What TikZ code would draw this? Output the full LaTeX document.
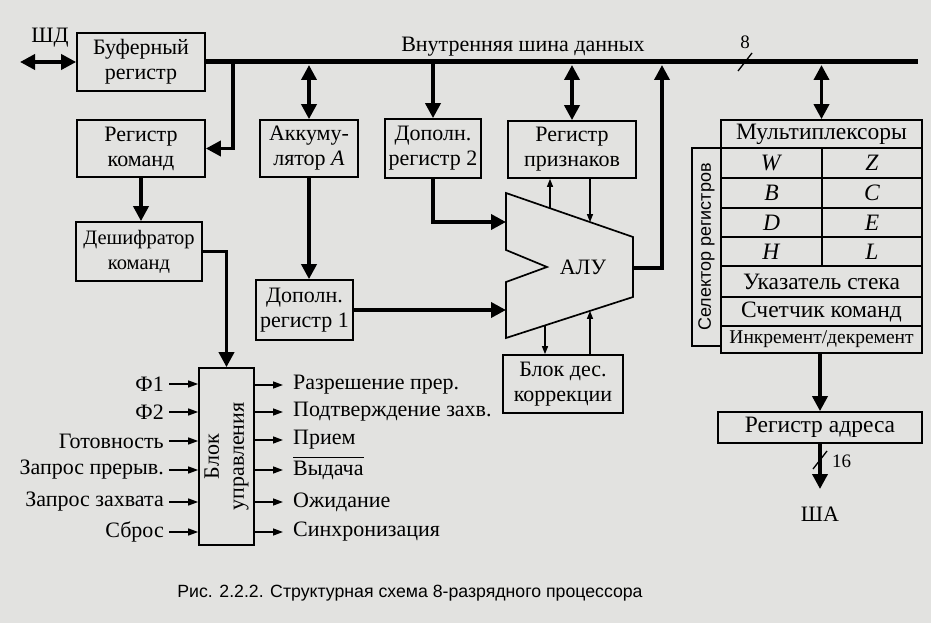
\documentclass[tikz,border=0pt]{standalone}
\usepackage{fontspec}
\setmainfont{Liberation Serif}
\newfontfamily\capfont{Liberation Sans}
\usetikzlibrary{arrows.meta}
\definecolor{paper}{RGB}{226,226,224}
\begin{document}
\begin{tikzpicture}[x=1pt,y=-1pt,
  every node/.style={inner sep=0pt},
  txt/.style={font=\fontsize{22}{25}\selectfont},
  rtxt/.style={font=\fontsize{23.5}{26}\selectfont},
  box/.style={draw, line width=1.7pt, align=center, txt},
  rbox/.style={box, rtxt},
  busline/.style={line width=5pt},
  tk/.style={line width=3.6pt, -{Triangle[length=15pt,width=15pt]}},
  tkd/.style={line width=3.6pt, {Triangle[length=15pt,width=15pt]}-{Triangle[length=15pt,width=15pt]}},
  tn/.style={line width=1.3pt, -{Triangle[length=8pt,width=6pt]}},
  sig/.style={line width=1.4pt, -{Triangle[length=10pt,width=7pt]}},
  slash/.style={line width=1.3pt}
]
\fill[paper] (0,0) rectangle (931,623);
\useasboundingbox (0,0) rectangle (931,623);

% ---- boxes
\node[box, minimum width=128pt, minimum height=58pt] (buf) at (141,62) {Буферный\\регистр};
\node[box, minimum width=128pt, minimum height=57pt] (rk) at (141,148.5) {Регистр\\команд};
\node[box, minimum width=126pt, minimum height=59pt, font=\fontsize{20.5}{25}\selectfont] (dc) at (139,251.5) {Дешифратор\\команд};
\node[box, minimum width=55pt, minimum height=177pt] (bu) at (226.5,456.5) {};
\node[txt, rotate=90, align=center] (butext) at (bu.center) {Блок\\управления};
\node[box, minimum width=98pt, minimum height=57pt] (acc) at (309,148.5) {Аккуму-\\лятор \textit{A}};
\node[box, minimum width=96pt, minimum height=59pt] (dr2) at (433,148.5) {Дополн.\\регистр 2};
\node[box, minimum width=128pt, minimum height=57pt] (rp) at (572,149.5) {Регистр\\признаков};
\node[box, minimum width=97pt, minimum height=60pt] (dr1) at (304.5,310) {Дополн.\\регистр 1};
\node[box, minimum width=120pt, minimum height=58pt] (bdk) at (563,384) {Блок дес.\\коррекции};

% ---- register file
\node[rbox, minimum width=201pt, minimum height=28pt] (mux) at (821.5,134) {Мультиплексоры};
\node[rbox, minimum width=101pt, minimum height=30pt] (rW) at (771.5,163) {\textit{W}};
\node[rbox, minimum width=100pt, minimum height=30pt] (rZ) at (872,163) {\textit{Z}};
\node[rbox, minimum width=101pt, minimum height=30pt] (rB) at (771.5,193) {\textit{B}};
\node[rbox, minimum width=100pt, minimum height=30pt] (rC) at (872,193) {\textit{C}};
\node[rbox, minimum width=101pt, minimum height=29pt] (rD) at (771.5,222.5) {\textit{D}};
\node[rbox, minimum width=100pt, minimum height=29pt] (rE) at (872,222.5) {\textit{E}};
\node[rbox, minimum width=101pt, minimum height=29pt] (rH) at (771.5,251.5) {\textit{H}};
\node[rbox, minimum width=100pt, minimum height=29pt] (rL) at (872,251.5) {\textit{L}};
\node[rbox, minimum width=201pt, minimum height=31pt] (sp) at (821.5,281.5) {Указатель стека};
\node[rbox, minimum width=201pt, minimum height=29pt] (pc) at (821.5,311.5) {Счетчик команд};
\node[box, minimum width=201pt, minimum height=27pt, font=\fontsize{19.5}{21}\selectfont] (inc) at (821.5,339.5) {Инкремент/декремент};
\node[box, minimum width=29pt, minimum height=198pt] (sel) at (706.5,247) {};
\node[rotate=90, font=\capfont\fontsize{18}{20}\selectfont] (seltext) at (sel.center) {Селектор регистров};
\node[rbox, minimum width=204pt, minimum height=31pt] (ra) at (820,427.5) {Регистр адреса};

% ---- ALU
\coordinate (a1) at (506,193);
\coordinate (a2) at (633,237);
\coordinate (a3) at (633,297);
\coordinate (a4) at (506,338);
\coordinate (n1) at (506,250);
\coordinate (n2) at (547,267);
\coordinate (n3) at (506,282);
\draw[line width=1.7pt] (a1) -- (a2) -- (a3) -- (a4) -- (n3) -- (n2) -- (n1) -- cycle;
\node[txt] (alu) at (583,267) {АЛУ};

% ---- labels
\node[txt] (shd) at (50,38) {ШД};
\node[txt] (busname) at (523,47) {Внутренняя шина данных};
\node[font=\fontsize{19}{20}\selectfont] (eight) at (745,42) {8};
\node[font=\fontsize{19}{20}\selectfont, anchor=west] (sixteen) at (832,461) {16};
\node[txt] (sha) at (820,514) {ША};
\node[font=\capfont\fontsize{17.7}{20}\selectfont] (caption) at (410,593) {Рис. 2.2.2. Структурная схема 8-разрядного процессора};

% ---- coordinates
\coordinate (shdL) at (20,62);
\coordinate (busR) at (918,62);
\coordinate (busM) at (0,62);
\coordinate (busB) at (0,65);
\coordinate (tapRK) at (233,62);
\coordinate (aluIn1) at (506,222);
\coordinate (aluIn2) at (506,310);
\coordinate (aluT1) at (550,208.2);
\coordinate (aluT2) at (590,222.1);
\coordinate (aluB1) at (545,325.4);
\coordinate (aluB2) at (590,310.9);
\coordinate (aluOut) at (633,268);
\coordinate (aluUp) at (662,65);
\coordinate (shatip) at (820,489);

% ---- bus and connectors
\draw[busline] (buf.east) -- (busR);
\draw[tkd] (shdL) -- (buf.west);
\draw[tk] (tapRK) |- (rk.east);
\draw[tkd] (acc.north |- busB) -- (acc.north);
\draw[tk] (dr2.north |- busM) -- (dr2.north);
\draw[tkd] (rp.north |- busB) -- (rp.north);
\draw[tkd] (mux.north |- busB) -- (mux.north);
\draw[tk] (acc.south) -- (acc.south |- dr1.north);
\draw[tk] (dr2.south) |- (aluIn1);
\draw[tk] (dr1.east) -- (aluIn2);
\draw[tn] (aluT1) -- (aluT1 |- rp.south);
\draw[tn] (aluT2 |- rp.south) -- (aluT2);
\draw[tn] (aluB1) -- (aluB1 |- bdk.north);
\draw[tn] (aluB2 |- bdk.north) -- (aluB2);
\draw[tk] (aluOut) -| (aluUp);
\draw[tk] (rk.south) -- (rk.south |- dc.north);
\draw[tk] (dc.east) -| (bu.north);
\draw[tk] (ra.north |- inc.south) -- (ra.north);
\draw[tk] (ra.south) -- (shatip);
\draw[slash] (738,71) -- (752,53);
\draw[slash] (813,469) -- (827,451);

% ---- control block inputs and outputs
\foreach \yy/\tt [count=\i] in {384/Ф1, 412/Ф2, 441/Готовность, 470/Запрос прерыв., 502/Запрос захвата, 532/Сброс} {
  \node[txt, anchor=east] (in\i) at (164,\yy) {\tt};
  \draw[sig] ([xshift=5pt]in\i.east) -- (bu.west |- in\i.east);
}
\foreach \yy/\tt [count=\i] in {385/Разрешение прер., 412/Подтверждение захв., 440/Прием, 470/Выдача, 502/Ожидание, 532/Синхронизация} {
  \node[txt, anchor=west] (out\i) at (293,\yy) {\tt};
  \draw[sig] (bu.east |- out\i.west) -- ([xshift=-10pt]out\i.west);
}
\draw[line width=1.2pt] ([yshift=3pt]out4.north west) -- ([yshift=3pt]out4.north east);
\end{tikzpicture}
\end{document}
